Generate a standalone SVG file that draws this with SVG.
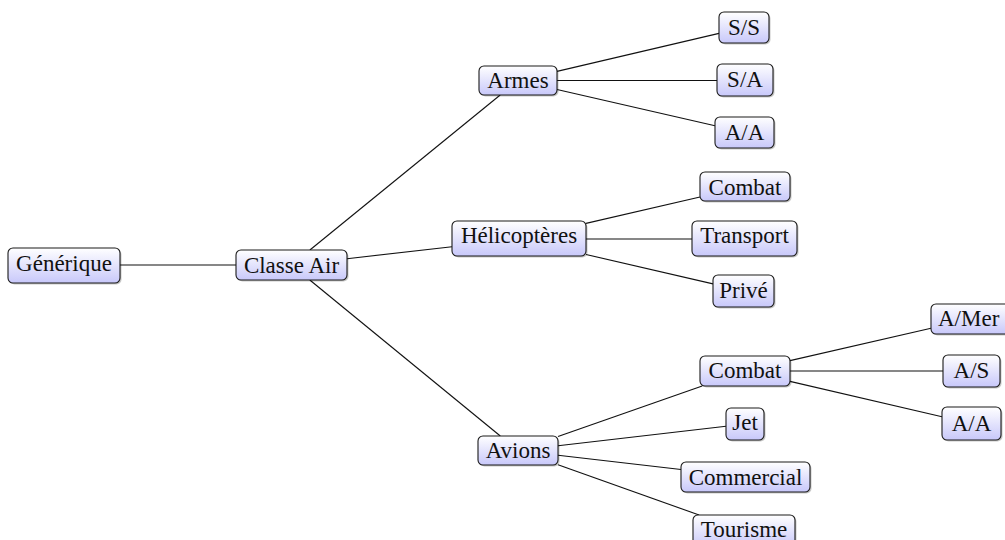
<svg xmlns="http://www.w3.org/2000/svg" width="1005" height="540" viewBox="0 0 1005 540">
<style>
.box{fill:url(#g);stroke:#1a1a1a;stroke-width:1.1}
.sh{fill:#000;opacity:0.22}
.t{font-family:"Liberation Serif","Times New Roman",serif;font-size:23px;fill:#111;text-anchor:middle}
.e{stroke:#111;stroke-width:1.1;fill:none}
</style>
<defs>
<linearGradient id="g" x1="0" y1="0" x2="0" y2="1">
<stop offset="0" stop-color="#ffffff"/>
<stop offset="1" stop-color="#c8c8fa"/>
</linearGradient>
</defs>
<rect width="1005" height="540" fill="#fff"/>
<g id="connectors">
<line class="e" x1="120" y1="265" x2="236" y2="265"/>
<line class="e" x1="309.9" y1="250" x2="500.2" y2="95"/>
<line class="e" x1="347" y1="258.7" x2="452" y2="246.7"/>
<line class="e" x1="309.8" y1="280" x2="500.3" y2="436"/>
<line class="e" x1="557" y1="71.4" x2="719" y2="33.4"/>
<line class="e" x1="557" y1="80.5" x2="717" y2="80.5"/>
<line class="e" x1="557" y1="89.5" x2="715" y2="125.7"/>
<line class="e" x1="586" y1="223.4" x2="700" y2="197"/>
<line class="e" x1="586" y1="239" x2="692" y2="239"/>
<line class="e" x1="586" y1="254.5" x2="713" y2="283.9"/>
<line class="e" x1="558" y1="436.5" x2="702.2" y2="386"/>
<line class="e" x1="558" y1="445.8" x2="726" y2="426.2"/>
<line class="e" x1="558" y1="455.2" x2="681" y2="469.5"/>
<line class="e" x1="558" y1="464.8" x2="699.1" y2="515"/>
<line class="e" x1="790" y1="360.6" x2="931" y2="328.2"/>
<line class="e" x1="790" y1="371" x2="943" y2="371"/>
<line class="e" x1="790" y1="381.4" x2="942" y2="416.7"/>
</g>
<g id="generique"><rect class="sh" x="9.5" y="249.5" width="112" height="35" rx="5"/><rect class="box" x="8" y="248" width="112" height="35" rx="5"/><text class="t" x="64" y="271">Générique</text></g>
<g id="classe-air"><rect class="sh" x="237.5" y="251.5" width="111" height="30" rx="5"/><rect class="box" x="236" y="250" width="111" height="30" rx="5"/><text class="t" x="291.5" y="273">Classe Air</text></g>
<g id="armes"><rect class="sh" x="480.5" y="67.5" width="78" height="29" rx="5"/><rect class="box" x="479" y="66" width="78" height="29" rx="5"/><text class="t" x="518" y="88">Armes</text></g>
<g id="ss"><rect class="sh" x="720.5" y="13.5" width="50" height="31" rx="5"/><rect class="box" x="719" y="12" width="50" height="31" rx="5"/><text class="t" x="744" y="35">S/S</text></g>
<g id="sa"><rect class="sh" x="718.5" y="65.5" width="56" height="32" rx="5"/><rect class="box" x="717" y="64" width="56" height="32" rx="5"/><text class="t" x="745" y="87">S/A</text></g>
<g id="aa1"><rect class="sh" x="716.5" y="118.5" width="59" height="31" rx="5"/><rect class="box" x="715" y="117" width="59" height="31" rx="5"/><text class="t" x="744.5" y="140">A/A</text></g>
<g id="helicopteres"><rect class="sh" x="453.5" y="222.5" width="134" height="35" rx="5"/><rect class="box" x="452" y="221" width="134" height="35" rx="5"/><text class="t" x="519" y="243">Hélicoptères</text></g>
<g id="combat-h"><rect class="sh" x="701.5" y="173.5" width="90" height="29" rx="5"/><rect class="box" x="700" y="172" width="90" height="29" rx="5"/><text class="t" x="745" y="195">Combat</text></g>
<g id="transport"><rect class="sh" x="693.5" y="222.5" width="105" height="35" rx="5"/><rect class="box" x="692" y="221" width="105" height="35" rx="5"/><text class="t" x="744.5" y="243">Transport</text></g>
<g id="prive"><rect class="sh" x="714.5" y="276.5" width="61" height="32" rx="5"/><rect class="box" x="713" y="275" width="61" height="32" rx="5"/><text class="t" x="743.5" y="298">Privé</text></g>
<g id="avions"><rect class="sh" x="479.5" y="437.5" width="80" height="29" rx="5"/><rect class="box" x="478" y="436" width="80" height="29" rx="5"/><text class="t" x="518" y="458">Avions</text></g>
<g id="combat-a"><rect class="sh" x="701.5" y="357.5" width="90" height="30" rx="5"/><rect class="box" x="700" y="356" width="90" height="30" rx="5"/><text class="t" x="745" y="378">Combat</text></g>
<g id="jet"><rect class="sh" x="727.5" y="409.5" width="38" height="32" rx="5"/><rect class="box" x="726" y="408" width="38" height="32" rx="5"/><text class="t" x="745" y="430">Jet</text></g>
<g id="commercial"><rect class="sh" x="682.5" y="463.5" width="129" height="30" rx="5"/><rect class="box" x="681" y="462" width="129" height="30" rx="5"/><text class="t" x="745.5" y="485">Commercial</text></g>
<g id="tourisme"><rect class="sh" x="694.5" y="516.5" width="102" height="32" rx="5"/><rect class="box" x="693" y="515" width="102" height="32" rx="5"/><text class="t" x="744" y="537">Tourisme</text></g>
<g id="amer"><rect class="sh" x="932.5" y="305.5" width="80" height="30" rx="5"/><rect class="box" x="931" y="304" width="80" height="30" rx="5"/><text class="t" x="938" y="326" style="text-anchor:start">A/Mer</text></g>
<g id="as"><rect class="sh" x="944.5" y="356.5" width="57" height="32" rx="5"/><rect class="box" x="943" y="355" width="57" height="32" rx="5"/><text class="t" x="971.5" y="378">A/S</text></g>
<g id="aa2"><rect class="sh" x="943.5" y="408.5" width="59" height="33" rx="5"/><rect class="box" x="942" y="407" width="59" height="33" rx="5"/><text class="t" x="971.5" y="431">A/A</text></g>
</svg>
